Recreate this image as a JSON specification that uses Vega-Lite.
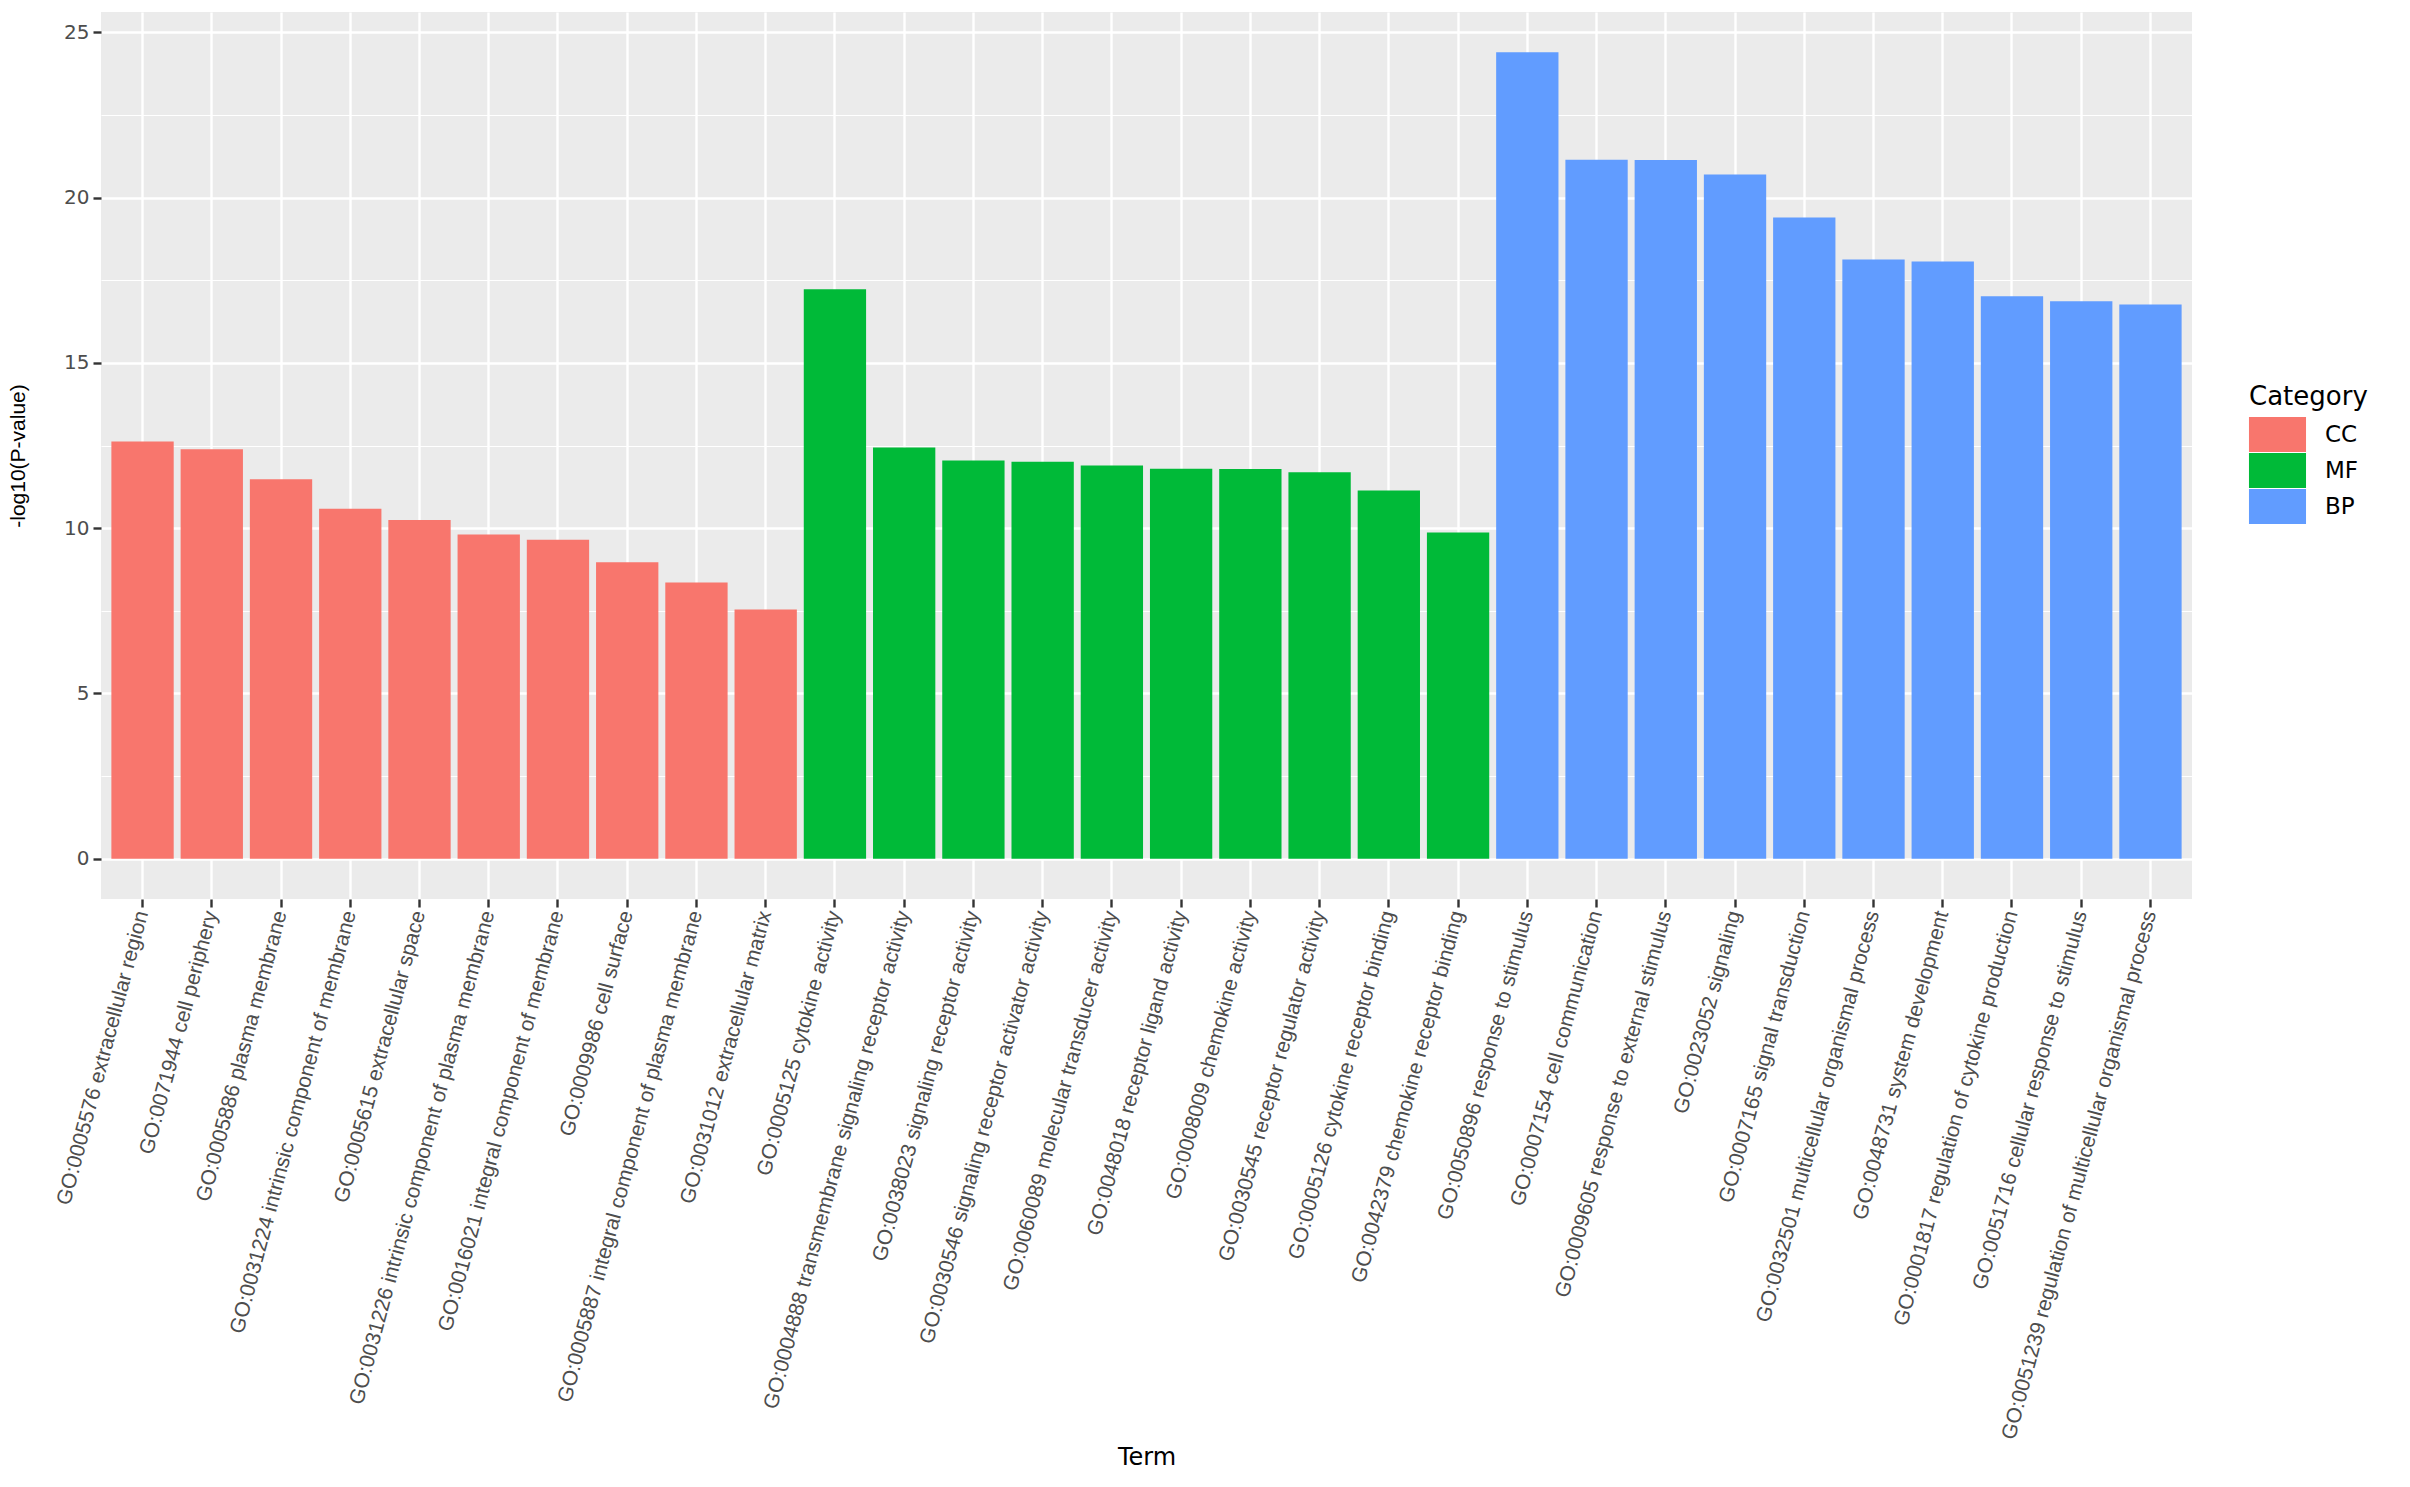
{
  "$schema": "https://vega.github.io/schema/vega-lite/v6.json",
  "width": 2091,
  "height": 887,
  "autosize": {"type": "none"},
  "padding": {"left": 101, "top": 12, "right": 218, "bottom": 588},
  "background": "white",
  "config": {
    "view": {"fill": "#EBEBEB", "stroke": null},
    "font": "Liberation Sans"
  },
  "data": {
    "values": [
      {"Term": "GO:0005576 extracellular region", "Category": "CC", "value": 12.62},
      {"Term": "GO:0071944 cell periphery", "Category": "CC", "value": 12.39},
      {"Term": "GO:0005886 plasma membrane", "Category": "CC", "value": 11.48},
      {"Term": "GO:0031224 intrinsic component of membrane", "Category": "CC", "value": 10.59},
      {"Term": "GO:0005615 extracellular space", "Category": "CC", "value": 10.25},
      {"Term": "GO:0031226 intrinsic component of plasma membrane", "Category": "CC", "value": 9.81},
      {"Term": "GO:0016021 integral component of membrane", "Category": "CC", "value": 9.65},
      {"Term": "GO:0009986 cell surface", "Category": "CC", "value": 8.97},
      {"Term": "GO:0005887 integral component of plasma membrane", "Category": "CC", "value": 8.36},
      {"Term": "GO:0031012 extracellular matrix", "Category": "CC", "value": 7.54},
      {"Term": "GO:0005125 cytokine activity", "Category": "MF", "value": 17.23},
      {"Term": "GO:0004888 transmembrane signaling receptor activity", "Category": "MF", "value": 12.44},
      {"Term": "GO:0038023 signaling receptor activity", "Category": "MF", "value": 12.05},
      {"Term": "GO:0030546 signaling receptor activator activity", "Category": "MF", "value": 12.01},
      {"Term": "GO:0060089 molecular transducer activity", "Category": "MF", "value": 11.9},
      {"Term": "GO:0048018 receptor ligand activity", "Category": "MF", "value": 11.8},
      {"Term": "GO:0008009 chemokine activity", "Category": "MF", "value": 11.79},
      {"Term": "GO:0030545 receptor regulator activity", "Category": "MF", "value": 11.69},
      {"Term": "GO:0005126 cytokine receptor binding", "Category": "MF", "value": 11.14},
      {"Term": "GO:0042379 chemokine receptor binding", "Category": "MF", "value": 9.87},
      {"Term": "GO:0050896 response to stimulus", "Category": "BP", "value": 24.4},
      {"Term": "GO:0007154 cell communication", "Category": "BP", "value": 21.15},
      {"Term": "GO:0009605 response to external stimulus", "Category": "BP", "value": 21.14},
      {"Term": "GO:0023052 signaling", "Category": "BP", "value": 20.7},
      {"Term": "GO:0007165 signal transduction", "Category": "BP", "value": 19.4},
      {"Term": "GO:0032501 multicellular organismal process", "Category": "BP", "value": 18.13},
      {"Term": "GO:0048731 system development", "Category": "BP", "value": 18.07},
      {"Term": "GO:0001817 regulation of cytokine production", "Category": "BP", "value": 17.02},
      {"Term": "GO:0051716 cellular response to stimulus", "Category": "BP", "value": 16.87},
      {"Term": "GO:0051239 regulation of multicellular organismal process", "Category": "BP", "value": 16.77}
    ]
  },
  "encoding": {
    "x": {"field": "Term", "type": "nominal", "sort": null,
          "scale": {"paddingInner": 0.1, "paddingOuter": 0.15},
          "axis": {"title": "Term", "bandPosition": 0.5, "grid": true, "gridColor": "white",
                   "gridWidth": 2.4, "domain": false, "tickColor": "#333333", "tickSize": 8,
                   "tickWidth": 2.4, "labelAngle": -75, "labelAlign": "right",
                   "labelBaseline": "middle", "labelFontSize": 21, "labelColor": "#4D4D4D",
                   "labelPadding": 4, "labelLimit": 0, "labelOverlap": false,
                   "titleFont": "DejaVu Sans", "titleFontSize": 24, "titleFontWeight": "normal",
                   "titleColor": "black", "titleY": 558, "titleBaseline": "middle"}},
    "y2": {"datum": 0}
  },
  "layer": [
    {
      "mark": {"type": "bar", "opacity": 0},
      "encoding": {
        "y": {"field": "value", "type": "quantitative",
              "scale": {"domain": [-1.22, 25.62], "nice": false, "zero": false},
              "axis": {"orient": "left", "values": [2.5, 7.5, 12.5, 17.5, 22.5], "grid": true,
                       "gridColor": "white", "gridWidth": 1.2, "labels": false, "ticks": false,
                       "domain": false, "title": null}}
      }
    },
    {
      "mark": {"type": "bar"},
      "encoding": {
        "y": {"field": "value", "type": "quantitative",
              "scale": {"domain": [-1.22, 25.62], "nice": false, "zero": false},
              "axis": {"orient": "left", "title": "-log10(P-value)", "values": [0, 5, 10, 15, 20, 25],
                       "grid": true, "gridColor": "white", "gridWidth": 2.4, "domain": false,
                       "tickColor": "#333333", "tickSize": 8, "tickWidth": 2.4,
                       "labelFont": "DejaVu Sans", "labelFontSize": 20, "labelColor": "#4D4D4D",
                       "labelPadding": 4,
                       "titleFontSize": 21, "titleFontWeight": "normal", "titleColor": "black",
                       "titleX": -83, "titleBaseline": "middle"}},
        "color": {"field": "Category", "type": "nominal",
                  "scale": {"domain": ["CC", "MF", "BP"], "range": ["#F8766D", "#00BA38", "#619CFF"]},
                  "legend": {"orient": "none", "legendX": 2148, "legendY": 372, "padding": 0,
                             "title": "Category", "titleFont": "DejaVu Sans", "titleFontSize": 26,
                             "titleFontWeight": "normal", "titleColor": "black", "titlePadding": 7,
                             "labelFont": "DejaVu Sans", "labelFontSize": 23, "labelColor": "black",
                             "symbolType": "M-1.63,-1H1.63V1H-1.63Z", "symbolSize": 1225,
                             "symbolStrokeWidth": 0, "symbolOpacity": 1, "symbolOffset": 11,
                             "labelOffset": 30, "rowPadding": 1}}
      }
    }
  ],
  "resolve": {"axis": {"y": "independent"}}
}
